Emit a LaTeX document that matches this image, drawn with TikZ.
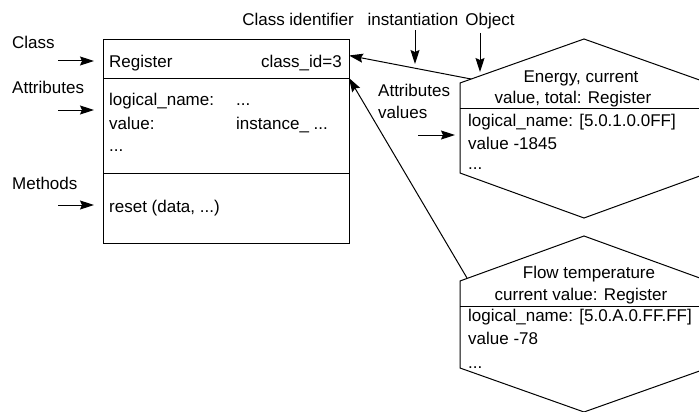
\documentclass[tikz,border=0pt]{standalone}
\usepackage{fontspec}
\setmainfont{Liberation Sans}
\usetikzlibrary{arrows.meta,positioning}

\tikzset{
  lbl/.style={inner sep=0pt, text height=12pt, text depth=0pt, font=\fontsize{17}{20}\selectfont},
  part/.style={draw, line width=1pt, inner sep=0pt, outer sep=0pt, minimum width=246pt, anchor=north west},
  link/.style={line width=1pt, -{Stealth[length=14pt,width=9pt,inset=2pt]}},
  hexa/.style={line width=1pt},
}

\begin{document}
\begin{tikzpicture}[x=1pt,y=-1pt]
\clip (0,0) rectangle (699,412);

% class box
\node[part, minimum height=39pt] (clshead) at (103,40) {};
\node[part, minimum height=94pt] (clsattr) at (103,79) {};
\node[part, minimum height=70pt] (clsmeth) at (103,173) {};

\node[lbl, anchor=west] (clsname) at (109,61) {Register};
\node[lbl, anchor=east] (clsid) at (342,61) {class\_id=3};
\node[lbl, anchor=west] (attrone) at (109,99) {logical\_name:};
\node[lbl, anchor=west] (attronev) at (236,99) {...};
\node[lbl, anchor=west] (attrtwo) at (109,123) {value:};
\node[lbl, anchor=west] (attrtwov) at (236,123) {instance\_ ...};
\node[lbl, anchor=west] (attrmore) at (109,145) {...};
\node[lbl, anchor=west] (methone) at (109,206) {reset (data, ...)};

% labels left
\node[lbl, anchor=west] (lclass) at (12,43) {Class};
\node[lbl, anchor=west] (lattr) at (12,88) {Attributes};
\node[lbl, anchor=west] (lmeth) at (12,183) {Methods};
\draw[link] (58,61) -- (94,61);
\draw[link] (58,110) -- (94,110);
\draw[link] (58,205) -- (94,205);

% labels top
\node[lbl] (lid) at (298,20) {Class identifier};
\node[lbl] (linst) at (413,20) {instantiation};
\node[lbl] (lobj) at (490,20) {Object};
\draw[link] (415,30) -- (415,64);
\draw[link] (480,33) -- (480,72);

\node[lbl, anchor=west] (lvalone) at (378,90) {Attributes};
\node[lbl, anchor=west] (lvaltwo) at (378,112) {values};
\draw[link] (418,135) -- (455,135);

% object 1
\draw[hexa] (460,83) -- (584,39) -- (708,83) -- (708,173) -- (584,218) -- (460,173) -- cycle;
\draw[hexa] (460,108) -- (708,108);
\coordinate (objone) at (471,79);
\node[lbl] (oonea) at (581,76) {Energy, current};
\node[lbl] (ooneb) at (573,97) {value, total: Register};
\node[lbl, anchor=west] (oonec) at (468,120) {logical\_name: [5.0.1.0.0FF]};
\node[lbl, anchor=west] (ooned) at (468,143) {value -1845};
\node[lbl, anchor=west] (oonee) at (468,163) {...};

% object 2
\draw[hexa] (460,281) -- (584,236) -- (708,281) -- (708,368) -- (584,412) -- (460,368) -- cycle;
\draw[hexa] (460,306) -- (708,306);
\coordinate (objtwo) at (467,278);
\node[lbl] (otwoa) at (589,272) {Flow temperature};
\node[lbl] (otwob) at (581,294) {current value: Register};
\node[lbl, anchor=west] (otwoc) at (468,315) {logical\_name: [5.0.A.0.FF.FF]};
\node[lbl, anchor=west] (otwod) at (468,338) {value -78};
\node[lbl, anchor=west] (otwoe) at (468,362) {...};

% instantiation links
\draw[link] (objone) -- ([yshift=4pt]clshead.east);
\draw[link] (objtwo) -- ([yshift=1pt]clsattr.north east);
\end{tikzpicture}
\end{document}
